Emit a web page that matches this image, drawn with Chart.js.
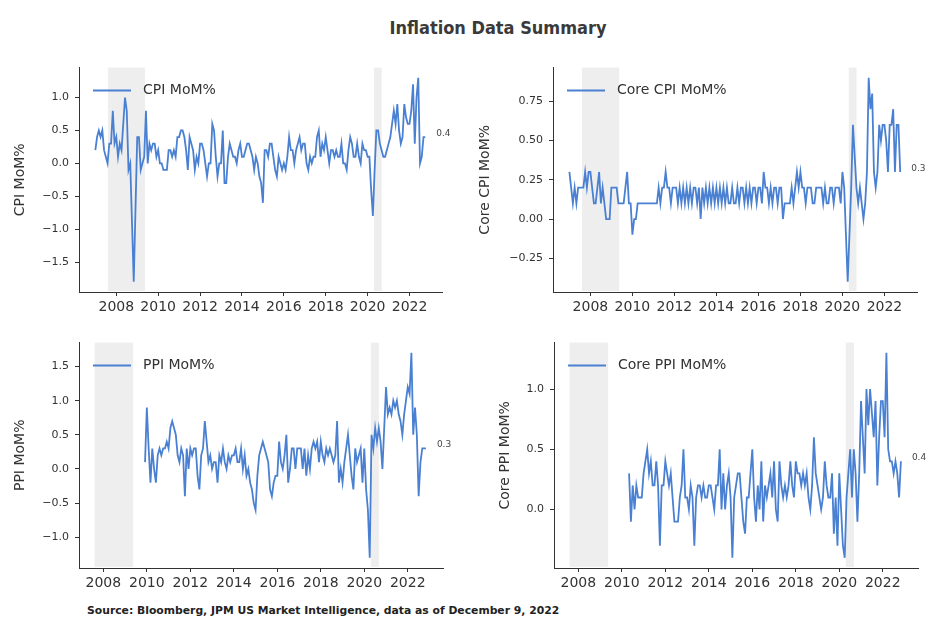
<!DOCTYPE html>
<html>
<head>
<meta charset="utf-8">
<title>Inflation Data Summary</title>
<script src="https://cdn.jsdelivr.net/npm/chart.js@4.4.1/dist/chart.umd.min.js"></script>
<style>
  body { margin: 0; background: #fff; }
  #page { position: relative; width: 931px; height: 624px; overflow: hidden; font-family: "DejaVu Sans", sans-serif; }
  #title { position: absolute; top: 17px; left: 0; width: 996px; text-align: center; color: #3a3a3a;
           font: bold 18px "DejaVu Sans Condensed", "Liberation Sans Narrow", sans-serif; }
  #source { position: absolute; left: 87px; top: 604px; color: #222; font: bold 10.8px "DejaVu Sans", sans-serif; white-space: nowrap; }
  canvas { position: absolute; }
</style>
</head>
<body>
<div id="page">
  <div id="title">Inflation Data Summary</div>
  <canvas id="cpi" width="465" height="270" style="left:0;top:55px"></canvas>
  <canvas id="coreCpi" width="466" height="270" style="left:465px;top:55px"></canvas>
  <canvas id="ppi" width="465" height="270" style="left:0;top:330px"></canvas>
  <canvas id="corePpi" width="466" height="270" style="left:465px;top:330px"></canvas>
  <div id="source">Source: Bloomberg, JPM US Market Intelligence, data as of December 9, 2022</div>
</div>
<script>
// monthly % change, Jan 2007 - Oct 2022
const cpiMoM = [
  0.2, 0.4, 0.5, 0.4, 0.5, 0.2, 0.1, 0.0, 0.3, 0.3, 0.8, 0.3,
  0.4, 0.1, 0.3, 0.2, 0.6, 1.0, 0.8, -0.1, 0.0, -0.9, -1.8, -0.7,
  0.4, 0.4, -0.1, 0.0, 0.1, 0.8, 0.0, 0.3, 0.2, 0.3, 0.3, 0.1,
  0.2, 0.0, 0.0, -0.1, -0.1, -0.1, 0.2, 0.2, 0.1, 0.2, 0.1, 0.4,
  0.4, 0.5, 0.5, 0.4, 0.2, -0.1, 0.4, 0.3, 0.2, -0.1, 0.1, 0.0,
  0.3, 0.3, 0.2, 0.0, -0.2, 0.0, 0.0, 0.6, 0.5, 0.1, -0.2, 0.0,
  0.0, 0.5, -0.3, -0.3, 0.1, 0.3, 0.2, 0.1, 0.1, 0.0, 0.2, 0.3,
  0.1, 0.1, 0.2, 0.3, 0.3, 0.2, 0.1, -0.1, 0.1, 0.0, -0.2, -0.3,
  -0.6, 0.2, 0.2, 0.1, 0.3, 0.3, 0.1, -0.1, -0.2, 0.1, 0.0, -0.1,
  0.0, -0.1, 0.1, 0.4, 0.2, 0.2, 0.0, 0.2, 0.3, 0.4, 0.2, 0.3,
  0.3, 0.0, -0.1, 0.1, 0.0, 0.1, 0.1, 0.4, 0.5, 0.1, 0.3, 0.2,
  0.4, 0.2, 0.0, 0.2, 0.2, 0.1, 0.2, 0.1, 0.1, 0.3, 0.0, 0.0,
  -0.1, 0.2, 0.4, 0.3, 0.1, 0.1, 0.3, 0.1, 0.0, 0.3, 0.2, 0.2,
  0.1, 0.1, -0.4, -0.8, -0.1, 0.5, 0.5, 0.3, 0.2, 0.1, 0.1, 0.2,
  0.3, 0.4, 0.6, 0.8, 0.6, 0.9, 0.5, 0.3, 0.4, 0.9, 0.7, 0.6,
  0.6, 0.8, 1.2, 0.3, 1.0, 1.3, 0.0, 0.1, 0.4, 0.4
];
// Jan 2007 - Oct 2022
const coreCpiMoM = [
  0.3, 0.2, 0.1, 0.2, 0.1, 0.2, 0.2, 0.2, 0.2, 0.3, 0.2, 0.3,
  0.3, 0.2, 0.1, 0.1, 0.2, 0.3, 0.1, 0.2, 0.1, 0.0, 0.0, 0.0,
  0.2, 0.2, 0.2, 0.2, 0.1, 0.1, 0.1, 0.1, 0.2, 0.3, 0.1, 0.1,
  -0.1, 0.0, 0.0, 0.1, 0.1, 0.1, 0.1, 0.1, 0.1, 0.1, 0.1, 0.1,
  0.1, 0.1, 0.1, 0.2, 0.1, 0.2, 0.2, 0.3, 0.2, 0.2, 0.1, 0.2,
  0.2, 0.2, 0.1, 0.2, 0.1, 0.2, 0.1, 0.2, 0.1, 0.2, 0.1, 0.2,
  0.2, 0.1, 0.2, 0.0, 0.2, 0.1, 0.2, 0.1, 0.2, 0.1, 0.2, 0.1,
  0.2, 0.1, 0.2, 0.1, 0.2, 0.1, 0.2, 0.1, 0.1, 0.2, 0.1, 0.1,
  0.2, 0.1, 0.2, 0.2, 0.1, 0.2, 0.1, 0.2, 0.1, 0.2, 0.2, 0.1,
  0.2, 0.2, 0.1, 0.3, 0.2, 0.2, 0.1, 0.2, 0.1, 0.2, 0.2, 0.1,
  0.2, 0.2, 0.0, 0.1, 0.1, 0.1, 0.1, 0.2, 0.1, 0.2, 0.3, 0.2,
  0.3, 0.2, 0.2, 0.1, 0.2, 0.2, 0.2, 0.1, 0.1, 0.2, 0.2, 0.2,
  0.2, 0.1, 0.2, 0.1, 0.1, 0.2, 0.2, 0.1, 0.2, 0.2, 0.2, 0.1,
  0.3, 0.2, -0.1, -0.4, -0.1, 0.2, 0.6, 0.4, 0.2, 0.1, 0.2, 0.1,
  0.0, 0.1, 0.3, 0.9, 0.7, 0.8, 0.3, 0.2, 0.3, 0.6, 0.5, 0.6,
  0.6, 0.5, 0.3, 0.6, 0.6, 0.7, 0.3, 0.6, 0.6, 0.3
];
// Dec 2009 - Nov 2022
const ppiMoM = [
  0.1,
  0.9, 0.3, -0.2, 0.3, 0.0, -0.2, 0.2, 0.3, 0.2, 0.3, 0.3, 0.4,
  0.3, 0.6, 0.7, 0.6, 0.5, 0.2, 0.1, 0.3, 0.2, -0.4, 0.3, 0.0,
  0.3, 0.2, 0.3, 0.3, -0.1, -0.3, 0.2, 0.3, 0.7, 0.4, 0.1, 0.2,
  0.0, 0.1, 0.1, -0.2, 0.2, 0.1, 0.3, 0.1, 0.0, 0.2, 0.1, 0.2,
  0.2, 0.3, 0.1, 0.1, 0.3, 0.0, 0.2, -0.1, 0.0, -0.2, -0.3, -0.5,
  -0.6, -0.1, 0.2, 0.3, 0.4, 0.3, 0.2, 0.1, -0.3, -0.4, -0.2, -0.1,
  -0.1, 0.4, 0.1, 0.0, 0.2, 0.5, -0.2, 0.0, 0.3, 0.3, 0.0, 0.3,
  0.3, 0.3, 0.0, 0.3, -0.1, 0.2, 0.0, 0.3, 0.4, 0.3, 0.4, 0.1,
  0.4, 0.2, 0.1, 0.3, 0.2, 0.3, 0.2, 0.1, 0.2, 0.7, -0.2, 0.0,
  -0.2, 0.1, 0.3, 0.5, 0.2, -0.1, -0.3, 0.3, 0.1, 0.2, 0.3, -0.2,
  0.3, -0.3, -0.6, -1.3, 0.5, 0.3, 0.6, 0.4, 0.6, 0.4, 0.0, 0.6,
  1.2, 0.8, 0.9, 0.8, 1.0, 0.9, 1.0, 0.8, 0.7, 0.5, 0.8, 1.0,
  1.2, 1.1, 1.7, 0.5, 0.9, 0.5, -0.4, 0.1, 0.3, 0.3, 0.3
];
// May 2010 - Nov 2022
const corePpiMoM = [
  0.3, -0.1, 0.2, 0.0, 0.2, 0.1, 0.1, 0.1,
  0.3, 0.4, 0.5, 0.3, 0.4, 0.2, 0.2, 0.4, 0.2, -0.3, 0.2, 0.2,
  0.4, 0.3, 0.2, 0.3, 0.1, -0.1, -0.1, -0.1, 0.1, 0.2, 0.5, 0.1,
  0.1, 0.0, 0.2, 0.1, -0.3, 0.1, 0.2, 0.2, 0.1, 0.2, 0.1, 0.1,
  0.2, 0.2, 0.1, 0.0, 0.2, 0.2, 0.5, 0.0, 0.3, 0.0, 0.2, 0.3,
  0.1, -0.4, 0.1, 0.2, 0.3, 0.3, 0.1, -0.1, -0.2, 0.1, 0.1, 0.3,
  0.5, 0.1, -0.1, 0.2, 0.0, 0.4, -0.1, 0.2, 0.1, 0.2, 0.3, 0.1,
  0.4, 0.0, -0.1, 0.4, 0.2, 0.1, 0.2, 0.1, 0.2, 0.4, 0.2, 0.1,
  0.4, 0.3, 0.3, 0.2, 0.3, 0.2, 0.3, 0.1, 0.0, 0.2, 0.6, 0.3,
  0.2, 0.1, 0.0, 0.1, 0.4, 0.2, 0.1, 0.1, 0.3, -0.2, 0.1, -0.3,
  0.3, 0.0, -0.3, -0.4, 0.1, 0.3, 0.5, 0.1, 0.5, 0.3, -0.1, 0.3,
  0.9, 0.6, 0.3, 1.0, 0.7, 1.0, 0.8, 0.6, 0.9, 0.2, 0.6, 0.9,
  0.9, 0.6, 1.3, 0.5, 0.4, 0.4, 0.3, 0.4, 0.3, 0.1, 0.4
];

const seriesLabels = ['CPI MoM%', 'Core CPI MoM%', 'PPI MoM%', 'Core PPI MoM%'];
const seriesStarts = [2007, 2007, 2009 + 11 / 12, 2010 + 4 / 12];   // first month, as decimal year
const recessions = [[2007.6, 2009.37], [2020.3, 2020.67]];          // shaded spans, decimal years

const LINE = '#4a80d2';
const INK = '#333333';
const FONT = 'DejaVu Sans';

function toPoints(values, start) {
  return values.map((v, i) => ({ x: start + i / 12, y: v }));
}

// grey recession bands behind the line
const shading = {
  id: 'shading',
  beforeDatasetsDraw(chart) {
    const { ctx, chartArea: a, scales: { x } } = chart;
    ctx.save();
    ctx.fillStyle = '#eeeeee';
    recessions.forEach(([s, e]) => {
      const x0 = x.getPixelForValue(s);
      const x1 = x.getPixelForValue(e);
      ctx.fillRect(x0, a.top, x1 - x0, a.bottom - a.top - 1);
    });
    ctx.restore();
  }
};

// matplotlib-style legend in the upper left of the axes
const insideLegend = {
  id: 'insideLegend',
  afterDatasetsDraw(chart) {
    const { ctx, chartArea: a } = chart;
    const ds = chart.data.datasets[0];
    const y = a.top + 23;
    ctx.save();
    ctx.strokeStyle = ds.borderColor;
    ctx.lineWidth = 2;
    ctx.beginPath();
    ctx.moveTo(a.left + 14, y);
    ctx.lineTo(a.left + 52, y);
    ctx.stroke();
    ctx.fillStyle = INK;
    ctx.font = '14px "' + FONT + '"';
    ctx.textBaseline = 'middle';
    ctx.fillText(ds.label, a.left + 64, y);
    ctx.restore();
  }
};

// latest value written just right of the last point
const lastValue = {
  id: 'lastValue',
  afterDatasetsDraw(chart) {
    const { ctx, scales: { x, y } } = chart;
    const pts = chart.data.datasets[0].data;
    const p = pts[pts.length - 1];
    ctx.save();
    ctx.fillStyle = '#444';
    ctx.font = '9px "' + FONT + '"';
    ctx.textBaseline = 'middle';
    ctx.fillText(p.y.toFixed(1), x.getPixelForValue(p.x) + 11, y.getPixelForValue(p.y) - 3.5);
    ctx.restore();
  }
};

function makePanel(id, label, values, start, ax) {
  new Chart(document.getElementById(id), {
    type: 'line',
    data: {
      datasets: [{
        label: label,
        data: toPoints(values, start),
        borderColor: LINE,
        borderWidth: 1.8,
        pointRadius: 0,
        tension: 0,
        fill: false
      }]
    },
    options: {
      responsive: false,
      animation: false,
      devicePixelRatio: 1,
      layout: { padding: { top: ax.top, right: ax.right, bottom: 0, left: 0 } },
      plugins: { legend: { display: false }, tooltip: { enabled: false } },
      scales: {
        x: {
          type: 'linear',
          min: ax.xMin,
          max: ax.xMax,
          afterFit: s => { s.height = ax.xHeight; },
          border: { color: INK, width: 1 },
          grid: { drawOnChartArea: false, drawTicks: true, tickLength: 4, color: INK },
          ticks: {
            stepSize: 2, includeBounds: false, autoSkip: false, maxRotation: 0, padding: 3,
            color: INK, font: { family: FONT, size: 14 },
            callback: v => String(v)
          }
        },
        y: {
          min: ax.yMin,
          max: ax.yMax,
          afterFit: s => { s.width = ax.yWidth; },
          border: { color: INK, width: 1 },
          grid: { drawOnChartArea: false, drawTicks: true, tickLength: 4, color: INK },
          title: {
            display: true, text: label, color: INK,
            font: { family: FONT, size: 14 },
            padding: { top: ax.titlePad, bottom: 0 }
          },
          ticks: {
            stepSize: ax.yStep, includeBounds: false, padding: 6,
            color: INK, font: { family: FONT, size: 11 },
            callback: v => v.toFixed(ax.dec).replace('-', '\u2212')
          }
        }
      }
    },
    plugins: [shading, insideLegend, lastValue]
  });
}

makePanel('cpi', seriesLabels[0], cpiMoM, seriesStarts[0], {
  top: 8, right: 23, xHeight: 33, yWidth: 79, titlePad: 12,
  xMin: 2006.22, xMax: 2023.55, yMin: -1.955, yMax: 1.455, yStep: 0.5, dec: 1
});
makePanel('coreCpi', seriesLabels[1], coreCpiMoM, seriesStarts[1], {
  top: 8, right: 14, xHeight: 33, yWidth: 88, titlePad: 12,
  xMin: 2006.22, xMax: 2023.55, yMin: -0.465, yMax: 0.965, yStep: 0.25, dec: 2
});
makePanel('ppi', seriesLabels[2], ppiMoM, seriesStarts[2], {
  top: 8, right: 22, xHeight: 32, yWidth: 79, titlePad: 12,
  xMin: 2006.88, xMax: 2023.62, yMin: -1.45, yMax: 1.85, yStep: 0.5, dec: 1
});
makePanel('corePpi', seriesLabels[3], corePpiMoM, seriesStarts[3], {
  top: 10, right: 13, xHeight: 32, yWidth: 89, titlePad: 32,
  xMin: 2006.88, xMax: 2023.62, yMin: -0.485, yMax: 1.385, yStep: 0.5, dec: 1
});
</script>
</body>
</html>
